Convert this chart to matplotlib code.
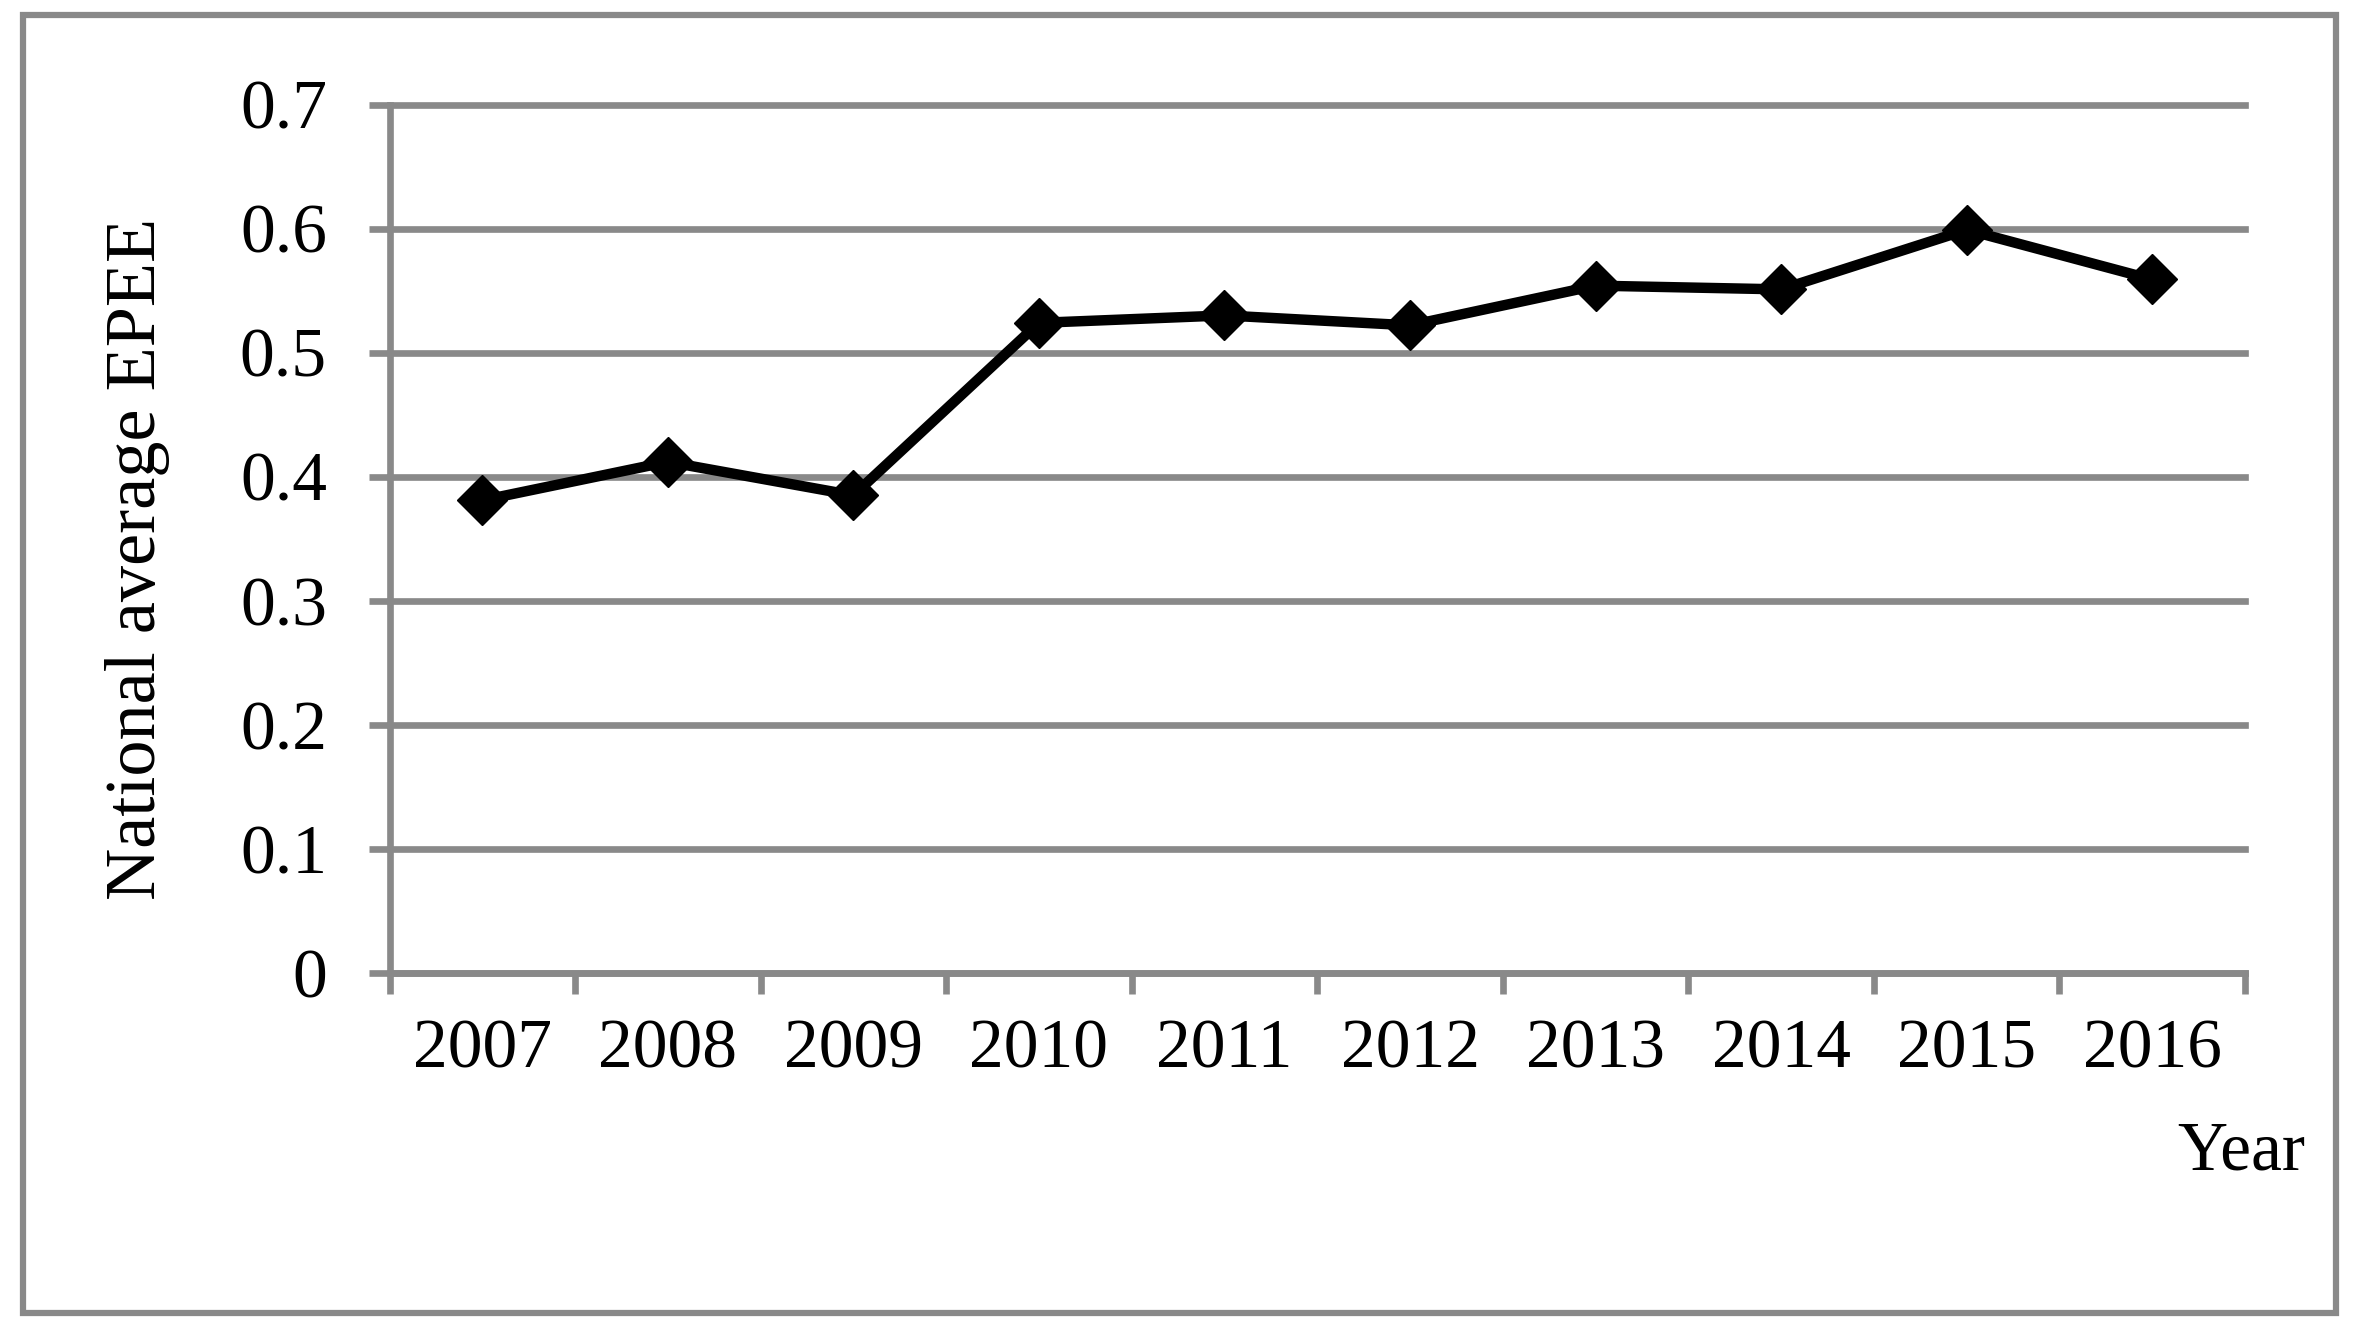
import matplotlib
matplotlib.use("Agg")
import matplotlib.pyplot as plt
from matplotlib.patches import Rectangle
import numpy as np

years = ["2007", "2008", "2009", "2010", "2011", "2012", "2013", "2014", "2015", "2016"]
epee = [0.381, 0.412, 0.385, 0.524, 0.530, 0.522, 0.554, 0.551, 0.599, 0.559]
yticks = [0, 0.1, 0.2, 0.3, 0.4, 0.5, 0.6, 0.7]
ytick_labels = ["0", "0.1", "0.2", "0.3", "0.4", "0.5", "0.6", "0.7"]

gray = "#898989"
plt.rcParams['font.family'] = ['Liberation Serif', 'DejaVu Serif']

W, H = 2357, 1335
fig = plt.figure(figsize=(W / 100, H / 100), dpi=100)
fig.patch.set_facecolor("white")

# axes in pixel terms of the reference
left, right, top, bottom = 389.5, 2245, 104.5, 973
ax = fig.add_axes([left / W, 1 - bottom / H, (right - left) / W, (bottom - top) / H])

x = np.arange(len(years)) + 0.5
ax.plot(x, epee, color="black", lw=7.5, marker="D", ms=25, mfc="black", mec="black",
        zorder=5, clip_on=False)

ax.set_xlim(0, len(years))
ax.set_ylim(0, 0.7)

# Excel style category axis: ticks between categories, labels centred
ax.set_xticks(np.arange(len(years) + 1))
ax.set_xticklabels([])
ax.set_xticks(x, minor=True)
ax.set_xticklabels(years, minor=True, fontsize=50)
ax.tick_params(axis="x", which="major", length=15, width=4.8, color=gray, direction="out")
ax.tick_params(axis="x", which="minor", length=0, pad=33)

ax.set_yticks(yticks)
ax.set_yticklabels(ytick_labels, fontsize=50)
ax.tick_params(axis="y", length=15, width=4.8, color=gray, direction="out", pad=30)

ax.yaxis.grid(True, color=gray, lw=4.8)
for gl in ax.get_ygridlines():
    gl.set_clip_on(False)
ax.set_axisbelow(True)

for s in ["top", "right"]:
    ax.spines[s].set_visible(False)
for s in ["left", "bottom"]:
    ax.spines[s].set_color(gray)
    ax.spines[s].set_linewidth(4.8)

fig.text(155 / W, 1 - 558.5 / H, "National average EPEE", fontsize=52, rotation=90,
         rotation_mode="anchor", ha="center", va="baseline")
fig.text(2305 / W, 1 - 1170 / H, "Year", fontsize=50, ha="right", va="baseline")

# outer chart frame
fig.add_artist(Rectangle((23 / W, 1 - 1313 / H), (2336 - 23) / W, (1313 - 15) / H,
                         transform=fig.transFigure, fill=False, ec=gray, lw=4.5))

fig.savefig("out.png", dpi=100)
